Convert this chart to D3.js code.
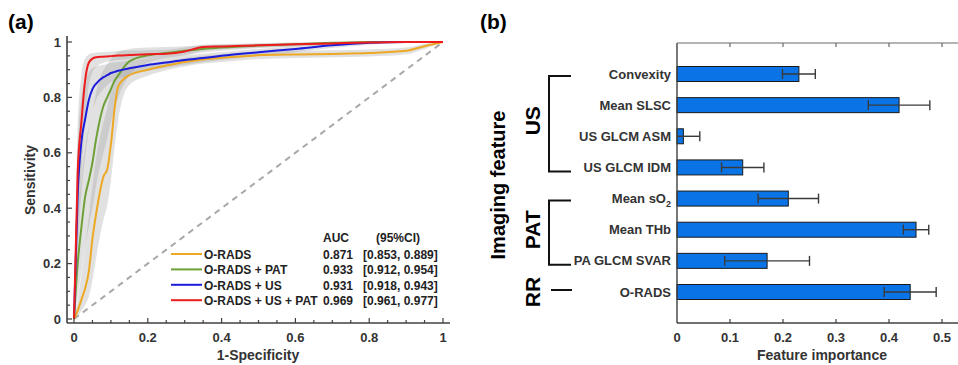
<!DOCTYPE html>
<html>
<head>
<meta charset="utf-8">
<script src="https://cdn.jsdelivr.net/npm/d3@7"></script>
<style>
  html, body { margin: 0; padding: 0; background: #fff; }
  svg { display: block; font-family: "Liberation Sans", Arial, sans-serif; font-weight: bold; }
</style>
</head>
<body>
<svg id="chart" width="958" height="365"></svg>
<script>
// ---- panel (a): ROC curves ----
const fpr = [0, 0.01, 0.02, 0.03, 0.04, 0.05, 0.06, 0.08, 0.09, 0.1, 0.11, 0.12, 0.15, 0.2, 0.25, 0.3, 0.35, 0.4, 0.5, 0.6, 0.7, 0.8, 0.9, 0.95, 1];
const tprORADS   = [0, 0.03, 0.07, 0.11, 0.17, 0.29, 0.38, 0.515, 0.54, 0.63, 0.76, 0.84, 0.88, 0.9, 0.915, 0.928, 0.937, 0.943, 0.952, 0.955, 0.957, 0.96, 0.968, 0.985, 1];
const loORADS    = [0, 0.01, 0.03, 0.05, 0.08, 0.14, 0.22, 0.36, 0.41, 0.5, 0.62, 0.72, 0.845, 0.878, 0.898, 0.912, 0.922, 0.928, 0.938, 0.942, 0.945, 0.948, 0.956, 0.975, 1];
const hiORADS    = [0, 0.07, 0.16, 0.26, 0.37, 0.48, 0.58, 0.71, 0.76, 0.82, 0.86, 0.885, 0.905, 0.918, 0.93, 0.942, 0.95, 0.956, 0.965, 0.968, 0.97, 0.973, 0.98, 0.993, 1];
const tprPAT     = [0, 0.2, 0.33, 0.44, 0.5, 0.565, 0.65, 0.77, 0.8, 0.83, 0.86, 0.88, 0.93, 0.952, 0.96, 0.968, 0.975, 0.98, 0.987, 0.992, 0.997, 1, 1, 1, 1];
const loPAT      = [0, 0.08, 0.17, 0.26, 0.33, 0.4, 0.48, 0.6, 0.65, 0.71, 0.76, 0.8, 0.88, 0.925, 0.942, 0.952, 0.962, 0.968, 0.978, 0.985, 0.992, 0.997, 1, 1, 1];
const hiPAT      = [0, 0.36, 0.5, 0.62, 0.69, 0.75, 0.82, 0.9, 0.92, 0.94, 0.955, 0.965, 0.975, 0.98, 0.982, 0.985, 0.988, 0.99, 0.995, 0.998, 1, 1, 1, 1, 1];
const tprUS      = [0, 0.45, 0.64, 0.72, 0.79, 0.83, 0.85, 0.873, 0.88, 0.888, 0.892, 0.896, 0.905, 0.917, 0.926, 0.935, 0.942, 0.95, 0.963, 0.975, 0.988, 0.997, 1, 1, 1];
const loUS       = [0, 0.25, 0.45, 0.58, 0.68, 0.75, 0.79, 0.83, 0.845, 0.855, 0.862, 0.868, 0.88, 0.896, 0.907, 0.918, 0.927, 0.935, 0.95, 0.963, 0.978, 0.99, 0.997, 1, 1];
const hiUS       = [0, 0.62, 0.8, 0.86, 0.89, 0.905, 0.912, 0.918, 0.921, 0.924, 0.926, 0.928, 0.932, 0.94, 0.945, 0.952, 0.958, 0.964, 0.975, 0.985, 0.995, 1, 1, 1, 1];
const tprAll     = [0, 0.53, 0.71, 0.86, 0.925, 0.94, 0.945, 0.947, 0.948, 0.949, 0.95, 0.951, 0.953, 0.956, 0.958, 0.966, 0.982, 0.984, 0.988, 0.992, 0.995, 0.998, 1, 1, 1];
const loAll      = [0, 0.32, 0.52, 0.72, 0.84, 0.89, 0.91, 0.925, 0.93, 0.932, 0.934, 0.935, 0.938, 0.942, 0.945, 0.952, 0.968, 0.974, 0.98, 0.985, 0.99, 0.995, 0.998, 1, 1];
const hiAll      = [0, 0.7, 0.88, 0.94, 0.955, 0.96, 0.962, 0.964, 0.965, 0.966, 0.967, 0.968, 0.969, 0.97, 0.972, 0.98, 0.99, 0.993, 0.995, 0.997, 0.999, 1, 1, 1, 1];

const rocNames  = ["O-RADS", "O-RADS + PAT", "O-RADS + US", "O-RADS + US + PAT"];
const rocColors = ["#EDA824", "#6EA038", "#1C1CDC", "#EE1C1C"];
const rocAUC    = ["0.871", "0.933", "0.931", "0.969"];
const rocCI     = ["[0.853, 0.889]", "[0.912, 0.954]", "[0.918, 0.943]", "[0.961, 0.977]"];
const rocTpr = [tprORADS, tprPAT, tprUS, tprAll];
const rocLo  = [loORADS, loPAT, loUS, loAll];
const rocHi  = [hiORADS, hiPAT, hiUS, hiAll];

// ---- panel (b): feature importance ----
const features   = ["Convexity", "Mean SLSC", "US GLCM ASM", "US GLCM IDM", "Mean sO2", "Mean THb", "PA GLCM SVAR", "O-RADS"];
const importance = [0.230, 0.419, 0.012, 0.124, 0.210, 0.451, 0.170, 0.440];
const impErr     = [0.031, 0.058, 0.031, 0.040, 0.057, 0.024, 0.080, 0.049];
const groups = [
  { name: "US",  from: "Convexity", to: "US GLCM IDM" },
  { name: "PAT", from: "Mean sO2",  to: "PA GLCM SVAR" },
  { name: "RR",  from: "O-RADS",    to: "O-RADS" }
];

const svg = d3.select("#chart");
const AX = "#404040";

// ================= panel (a) =================
const xA = d3.scaleLinear().domain([0, 1]).range([74, 443]);
const yA = d3.scaleLinear().domain([0, 1]).range([319, 42]);
const gA = svg.append("g");

gA.append("text").attr("x", 8).attr("y", 29).attr("font-size", 21).attr("fill", "#000").text("(a)");

// CI bands
const band = d3.area().x((d, i) => xA(fpr[i])).y0(d => yA(d[0])).y1(d => yA(d[1])).curve(d3.curveMonotoneX);
rocLo.forEach((lo, k) => {
  gA.append("path").datum(lo.map((v, i) => [v, rocHi[k][i]]))
    .attr("d", band).attr("fill", "#9a9a9a").attr("fill-opacity", 0.3);
});

// chance diagonal
gA.append("line").attr("x1", xA(0)).attr("y1", yA(0)).attr("x2", xA(1)).attr("y2", yA(1))
  .attr("stroke", "#a8a8a8").attr("stroke-width", 2).attr("stroke-dasharray", "6,5");

// curves
const line = d3.line().x((d, i) => xA(fpr[i])).y(d => yA(d)).curve(d3.curveMonotoneX);
rocTpr.forEach((t, k) => {
  gA.append("path").datum(t).attr("d", line).attr("fill", "none")
    .attr("stroke", rocColors[k]).attr("stroke-width", 2);
});

// axes
gA.append("line").attr("x1", 67).attr("x2", 67).attr("y1", 36).attr("y2", 323).attr("stroke", AX).attr("stroke-width", 1.6);
gA.append("line").attr("x1", 67).attr("x2", 450).attr("y1", 323).attr("y2", 323).attr("stroke", AX).attr("stroke-width", 1.6);

const minor = d3.range(0, 1.0001, 0.05);
gA.append("g").selectAll("line").data(minor).join("line")
  .attr("x1", 67).attr("x2", (d, i) => 67 + (i % 4 === 0 ? 5 : 3))
  .attr("y1", d => yA(d)).attr("y2", d => yA(d)).attr("stroke", AX).attr("stroke-width", 1.2);
gA.append("g").selectAll("line").data(minor).join("line")
  .attr("y1", 323).attr("y2", (d, i) => 323 - (i % 4 === 0 ? 5 : 3))
  .attr("x1", d => xA(d)).attr("x2", d => xA(d)).attr("stroke", AX).attr("stroke-width", 1.2);

const major = [0, 0.2, 0.4, 0.6, 0.8, 1];
gA.append("g").selectAll("text").data(major).join("text")
  .attr("x", 61).attr("y", d => yA(d) + 4.5).attr("text-anchor", "end")
  .attr("font-size", 13).attr("fill", "#333").text(d => d3.format("~g")(d));
gA.append("g").selectAll("text").data(major).join("text")
  .attr("x", d => xA(d)).attr("y", 342).attr("text-anchor", "middle")
  .attr("font-size", 13).attr("fill", "#333").text(d => d3.format("~g")(d));

gA.append("text").attr("x", 258).attr("y", 360).attr("text-anchor", "middle")
  .attr("font-size", 14).attr("fill", "#333").text("1-Specificity");
gA.append("text").attr("transform", "translate(35,180) rotate(-90)").attr("text-anchor", "middle")
  .attr("font-size", 14).attr("fill", "#333").text("Sensitivity");

// legend
const lg = gA.append("g");
lg.append("text").attr("x", 323).attr("y", 242).attr("font-size", 12).attr("fill", "#222").text("AUC");
lg.append("text").attr("x", 376).attr("y", 242).attr("font-size", 12).attr("fill", "#222").text("(95%CI)");
rocNames.forEach((n, k) => {
  const y = 255 + k * 15.4;
  lg.append("line").attr("x1", 171).attr("x2", 202).attr("y1", y - 1).attr("y2", y - 1)
    .attr("stroke", rocColors[k]).attr("stroke-width", 2);
  lg.append("text").attr("x", 204).attr("y", y + 4).attr("font-size", 12).attr("fill", "#222").text(n);
  lg.append("text").attr("x", 323).attr("y", y + 4).attr("font-size", 12).attr("fill", "#222").text(rocAUC[k]);
  lg.append("text").attr("x", 363).attr("y", y + 4).attr("font-size", 12).attr("fill", "#222").text(rocCI[k]);
});

// ================= panel (b) =================
const xB = d3.scaleLinear().domain([0, 0.55]).range([677, 968.5]);
const yB = d3.scalePoint().domain(features).range([74, 292]);
const gB = svg.append("g");

gB.append("text").attr("x", 480).attr("y", 29).attr("font-size", 21).attr("fill", "#000").text("(b)");

// bars
gB.append("g").selectAll("rect").data(features).join("rect")
  .attr("x", xB(0)).attr("y", d => yB(d) - 7.5)
  .attr("width", (d, i) => xB(importance[i]) - xB(0)).attr("height", 15)
  .attr("fill", "#0A74E6").attr("stroke", "#1a1a1a").attr("stroke-width", 1);

// error bars
const eb = gB.append("g").attr("stroke", "#3a3a3a").attr("stroke-width", 1.4);
features.forEach((f, i) => {
  const lo = Math.max(0, importance[i] - impErr[i]), hi = importance[i] + impErr[i];
  const y = yB(f);
  eb.append("line").attr("x1", xB(lo)).attr("x2", xB(hi)).attr("y1", y).attr("y2", y);
  if (importance[i] - impErr[i] > 0)
    eb.append("line").attr("x1", xB(lo)).attr("x2", xB(lo)).attr("y1", y - 5).attr("y2", y + 5);
  eb.append("line").attr("x1", xB(hi)).attr("x2", xB(hi)).attr("y1", y - 5).attr("y2", y + 5);
});

// axes box
gB.append("line").attr("x1", 677).attr("x2", 677).attr("y1", 43).attr("y2", 323).attr("stroke", AX).attr("stroke-width", 1.4);
gB.append("line").attr("x1", 677).attr("x2", 958).attr("y1", 323).attr("y2", 323).attr("stroke", AX).attr("stroke-width", 1.4);
gB.append("line").attr("x1", 677).attr("x2", 958).attr("y1", 43).attr("y2", 43).attr("stroke", "#6a6a6a").attr("stroke-width", 1.2);
const ticksB = [0, 0.1, 0.2, 0.3, 0.4, 0.5];
gB.append("g").selectAll("line").data(ticksB.slice(1)).join("line")
  .attr("x1", d => xB(d)).attr("x2", d => xB(d)).attr("y1", 323).attr("y2", 319).attr("stroke", AX).attr("stroke-width", 1.2);
gB.append("g").selectAll("line").data(ticksB.slice(1)).join("line")
  .attr("x1", d => xB(d)).attr("x2", d => xB(d)).attr("y1", 43).attr("y2", 47).attr("stroke", "#6a6a6a").attr("stroke-width", 1.2);
gB.append("g").selectAll("text").data(ticksB).join("text")
  .attr("x", d => xB(d)).attr("y", 342).attr("text-anchor", "middle")
  .attr("font-size", 13).attr("fill", "#333").text(d => d3.format("~g")(d));
gB.append("text").attr("x", 822).attr("y", 360).attr("text-anchor", "middle")
  .attr("font-size", 14).attr("fill", "#333").text("Feature importance");

// feature labels
const fl = gB.append("g").selectAll("text").data(features).join("text")
  .attr("x", 671).attr("y", d => yB(d) + 4.5).attr("text-anchor", "end")
  .attr("font-size", 13).attr("fill", "#333");
fl.each(function (d) {
  const t = d3.select(this);
  if (d === "Mean sO2") {
    t.append("tspan").text("Mean sO");
    t.append("tspan").attr("font-size", 9).attr("dy", 4).text("2");
  } else t.text(d);
});

// group brackets
groups.forEach(g => {
  const y0 = yB(g.from), y1 = yB(g.to);
  const br = gB.append("g").attr("stroke", "#111").attr("stroke-width", 2).attr("fill", "none");
  if (y0 === y1) {
    br.append("line").attr("x1", 551).attr("x2", 572).attr("y1", y0 - 2).attr("y2", y0 - 2);
  } else {
    br.append("path").attr("d", `M571,${y0 + 2}H549V${y1 + 4}H571`);
  }
  gB.append("text").attr("transform", `translate(540,${(y0 + y1) / 2}) rotate(-90)`)
    .attr("text-anchor", "middle").attr("font-size", 21).attr("fill", "#000").text(g.name);
});

gB.append("text").attr("transform", "translate(505,185) rotate(-90)").attr("text-anchor", "middle")
  .attr("font-size", 20).attr("fill", "#000").text("Imaging feature");
</script>
</body>
</html>
